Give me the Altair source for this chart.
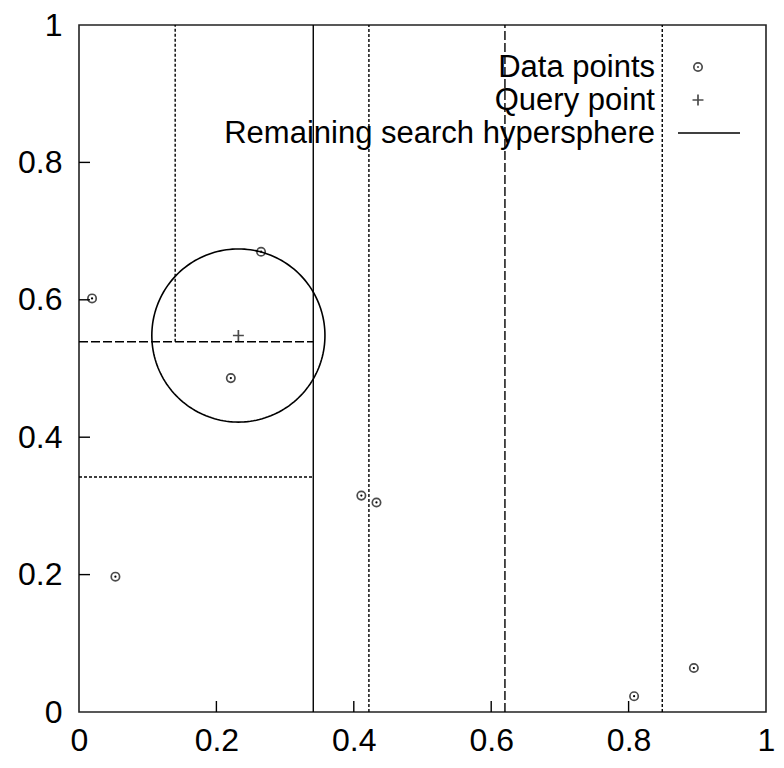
import altair as alt
import numpy as np
import pandas as pd

# ---- data ----
data_x = [0.019, 0.265, 0.221, 0.053, 0.411, 0.433, 0.808, 0.895]
data_y = [0.602, 0.670, 0.486, 0.197, 0.315, 0.305, 0.023, 0.064]
query_x = [0.232]
query_y = [0.548]
sphere_radius = 0.126

seg_x = [0.341, 0.140, 0.422, 0.620, 0.849, 0.0, 0.0]
seg_x2 = [0.341, 0.140, 0.422, 0.620, 0.849, 0.341, 0.341]
seg_y = [0.0, 0.539, 0.0, 0.0, 0.0, 0.539, 0.342]
seg_y2 = [1.0, 1.0, 1.0, 1.0, 1.0, 0.539, 0.342]
seg_style = ["solid", "dotted", "dotted", "dashed", "dotted", "dashed", "dotted"]

tick_values = [0, 0.2, 0.4, 0.6, 0.8, 1]
inner_ticks = [0.2, 0.4, 0.6, 0.8]
legend_labels = ["Data points", "Query point", "Remaining search hypersphere"]

# ---- layout/style ----
W, H = 687, 687
FONT = "Liberation Sans"
FS = 32
LEG_FS = 31
TICK_LEN = 11

points_df = pd.DataFrame({"x": data_x, "y": data_y})
query_df = pd.DataFrame({"x": query_x, "y": query_y})
seg_df = pd.DataFrame({"x": seg_x, "x2": seg_x2, "y": seg_y, "y2": seg_y2, "style": seg_style})
ang = np.linspace(0, 2 * np.pi, 181)
circle_df = pd.DataFrame({
    "x": query_x[0] + sphere_radius * np.cos(ang),
    "y": query_y[0] + sphere_radius * np.sin(ang),
    "o": np.arange(len(ang)),
})
ticks_df = pd.DataFrame({"v": inner_ticks})

xscale = alt.Scale(domain=[0, 1], nice=False, zero=False)
yscale = alt.Scale(domain=[0, 1], nice=False, zero=False)

def make_axis(orient):
    return alt.Axis(
        values=tick_values, format="~g", ticks=False, domain=False, grid=False,
        labelFont=FONT, labelFontSize=FS, labelColor="black",
        labelPadding=13 if orient == "bottom" else 17, title=None, orient=orient,
        labelFlush=False, labelOverlap=False,
    )

XA = make_axis("bottom")
YA = make_axis("left")

def X(field):
    return alt.X(field, scale=xscale, axis=XA)

def Y(field):
    return alt.Y(field, scale=yscale, axis=YA)

segments = alt.Chart(seg_df).mark_rule(color="black", strokeWidth=1.4).encode(
    x=X("x:Q"),
    x2="x2:Q",
    y=Y("y:Q"),
    y2="y2:Q",
    strokeDash=alt.StrokeDash(
        "style:N",
        scale=alt.Scale(domain=["solid", "dotted", "dashed"], range=[[1, 0], [3, 2], [9, 3]]),
        legend=None,
    ),
)

circle = alt.Chart(circle_df).mark_line(color="black", strokeWidth=1.6).encode(
    x=X("x:Q"), y=Y("y:Q"), order="o:Q",
)

pts = alt.Chart(points_df).mark_point(shape="circle", filled=False, color="black", size=70, strokeWidth=1.7).encode(
    x=X("x:Q"), y=Y("y:Q"),
)
dots = alt.Chart(points_df).mark_point(shape="circle", filled=True, color="black", size=5, opacity=1).encode(
    x=X("x:Q"), y=Y("y:Q"),
)

PLUS = "M-1,0H1M0,-1V1"
query = alt.Chart(query_df).mark_point(shape=PLUS, filled=False, color="black", size=120, strokeWidth=1.7).encode(
    x=X("x:Q"), y=Y("y:Q"),
)

xticks = alt.Chart(ticks_df).mark_rule(color="black", strokeWidth=1.4).encode(
    x=X("v:Q"), y=alt.value(H), y2=alt.value(H - TICK_LEN)
)
yticks = alt.Chart(ticks_df).mark_rule(color="black", strokeWidth=1.4).encode(
    y=Y("v:Q"), x=alt.value(0), x2=alt.value(TICK_LEN)
)

# ---- legend (top right, gnuplot style: text then symbol) ----
one = pd.DataFrame({"a": [0]})
LX_TEXT, LX_SYM = W - 111, W - 68
ROW0, ROW_STEP = 52, 33
legend_layers = []
for i, lab in enumerate(legend_labels):
    legend_layers.append(
        alt.Chart(one).mark_text(align="right", baseline="alphabetic", font=FONT, fontSize=LEG_FS,
                                 color="black", text=lab)
        .encode(x=alt.value(LX_TEXT), y=alt.value(ROW0 + i * ROW_STEP))
    )
row_mid = [ROW0 + i * ROW_STEP - 10 for i in range(3)]
legend_layers.append(
    alt.Chart(one).mark_point(shape="circle", filled=False, color="black", size=70, strokeWidth=1.7)
    .encode(x=alt.value(LX_SYM), y=alt.value(row_mid[0]))
)
legend_layers.append(
    alt.Chart(one).mark_point(shape="circle", filled=True, color="black", size=5)
    .encode(x=alt.value(LX_SYM), y=alt.value(row_mid[0]))
)
legend_layers.append(
    alt.Chart(one).mark_point(shape=PLUS, filled=False, color="black", size=120, strokeWidth=1.7)
    .encode(x=alt.value(LX_SYM), y=alt.value(row_mid[1]))
)
legend_layers.append(
    alt.Chart(one).mark_rule(color="black", strokeWidth=1.6)
    .encode(x=alt.value(W - 88), x2=alt.value(W - 26), y=alt.value(row_mid[2]))
)

chart = alt.layer(segments, circle, xticks, yticks, pts, dots, query, *legend_layers).properties(
    width=W, height=H,
    autosize=alt.AutoSizeParams(type="none"),
    padding={"left": 71, "top": 17, "right": 10, "bottom": 48},
    background="white",
).configure_view(stroke="#222", strokeWidth=1.6)

chart.save("out.html", embed_options={"renderer": "svg", "actions": False})
